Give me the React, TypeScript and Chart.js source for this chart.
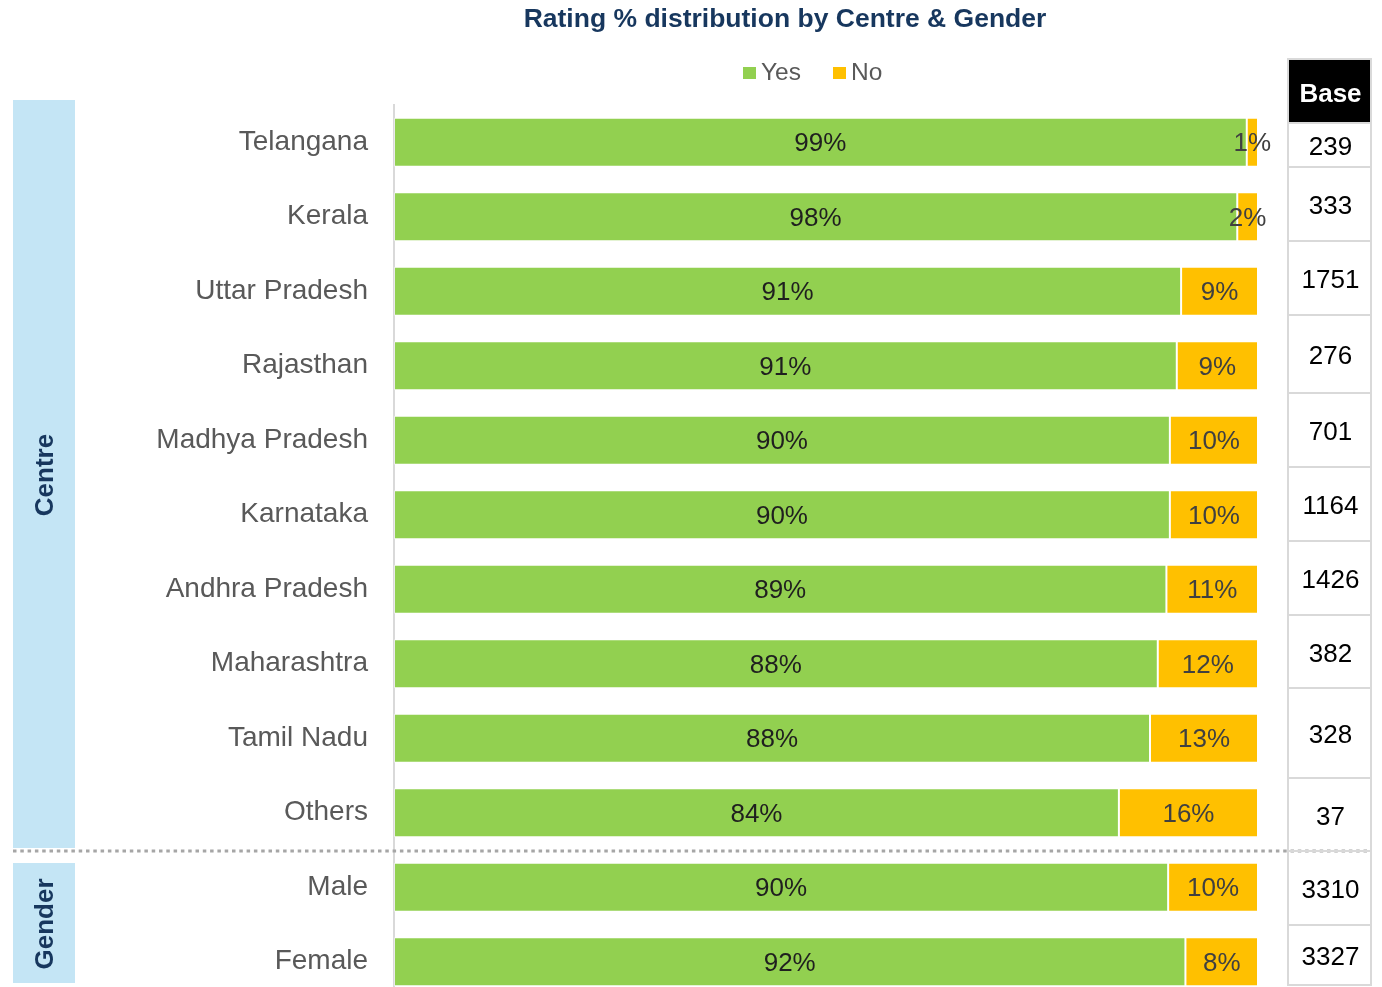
import React, { useEffect, useRef } from "react";
import { Chart, registerables } from "chart.js";

Chart.register(...registerables);

// ---------- data ----------
const TITLE = "Rating % distribution by Centre & Gender";
const CATEGORIES = [
  "Telangana",
  "Kerala",
  "Uttar Pradesh",
  "Rajasthan",
  "Madhya Pradesh",
  "Karnataka",
  "Andhra Pradesh",
  "Maharashtra",
  "Tamil Nadu",
  "Others",
  "Male",
  "Female",
];
const SERIES_NAMES = ["Yes", "No"];
const YES = [98.7, 97.6, 91.1, 90.6, 89.8, 89.8, 89.4, 88.4, 87.5, 83.9, 89.6, 91.6];
const NO = [1.3, 2.4, 8.9, 9.4, 10.2, 10.2, 10.6, 11.6, 12.5, 16.1, 10.4, 8.4];
const BASE_HEADER = "Base";
const BASE = [239, 333, 1751, 276, 701, 1164, 1426, 382, 328, 37, 3310, 3327];
const GROUPS = ["Centre", "Gender"];
const GROUP_SIZES = [10, 2];

// ---------- layout / style ----------
const FONT = "'Liberation Sans', Arial, Helvetica, sans-serif";
const GREEN = "#92D050";
const GOLD = "#FFC000";
const NAVY = "#17375E";
const PANEL_BLUE = "#C4E5F5";
const GRID_GRAY = "#D9D9D9";
const TABLE_X = 1288;
const TABLE_W = 83;
const TABLE_HEADER_TOP = 59;
const TABLE_EDGES = [123, 167, 241, 315, 393, 467, 541, 615, 688, 778, 851, 925, 985];
const PANEL_SPANS = [
  [100, 848],
  [863, 983],
];

const decorPlugin = {
  id: "decor",
  afterDatasetsDraw(chart: any) {
    const ctx = chart.ctx as CanvasRenderingContext2D;
    chart.data.datasets.forEach((ds: any, di: number) => {
      const meta = chart.getDatasetMeta(di);
      meta.data.forEach((el: any, i: number) => {
        const v = ds.data[i] as number;
        const cx = (el.x + el.base) / 2;
        ctx.save();
        ctx.font = `26px ${FONT}`;
        ctx.fillStyle = di === 0 ? "#1F1F1F" : "#404040";
        ctx.textAlign = "center";
        ctx.textBaseline = "middle";
        ctx.fillText(`${Math.round(v)}%`, cx, el.y + 2);
        ctx.restore();
      });
    });
  },
  afterDraw(chart: any) {
    const ctx = chart.ctx as CanvasRenderingContext2D;
    const yScale = chart.scales.y;
    ctx.save();

    // title
    ctx.font = `bold 26.5px ${FONT}`;
    ctx.fillStyle = NAVY;
    ctx.textAlign = "center";
    ctx.textBaseline = "alphabetic";
    ctx.fillText(TITLE, 785, 27);

    // legend
    const legendItems = [
      { text: SERIES_NAMES[0], color: GREEN, x: 743 },
      { text: SERIES_NAMES[1], color: GOLD, x: 833 },
    ];
    ctx.font = `24.5px ${FONT}`;
    ctx.textAlign = "left";
    legendItems.forEach((it) => {
      ctx.fillStyle = it.color;
      ctx.fillRect(it.x, 67, 13, 12);
      ctx.fillStyle = "#595959";
      ctx.fillText(it.text, it.x + 18, 80);
    });

    // group panels
    GROUPS.forEach((g, gi) => {
      const [top, bottom] = PANEL_SPANS[gi];
      ctx.fillStyle = PANEL_BLUE;
      ctx.fillRect(13, top, 62, bottom - top);
      ctx.save();
      ctx.translate(53, (top + bottom) / 2 + 1);
      ctx.rotate(-Math.PI / 2);
      ctx.font = `bold 26px ${FONT}`;
      ctx.fillStyle = NAVY;
      ctx.textAlign = "center";
      ctx.textBaseline = "alphabetic";
      ctx.fillText(g, 0, 0);
      ctx.restore();
    });

    // dashed separator between groups
    const splitIdx = GROUP_SIZES[0];
    const sepY =
      (yScale.getPixelForValue(splitIdx - 1) + yScale.getPixelForValue(splitIdx)) / 2 + 1;
    ctx.strokeStyle = "#A6A6A6";
    ctx.lineWidth = 3;
    ctx.setLineDash([3.5, 3.8]);
    ctx.beginPath();
    ctx.moveTo(13, sepY);
    ctx.lineTo(1372, sepY);
    ctx.stroke();
    ctx.setLineDash([]);

    // base table
    ctx.fillStyle = "#000000";
    ctx.fillRect(TABLE_X, TABLE_HEADER_TOP, TABLE_W, TABLE_EDGES[0] - TABLE_HEADER_TOP);
    ctx.strokeStyle = GRID_GRAY;
    ctx.lineWidth = 2;
    ctx.strokeRect(TABLE_X, TABLE_HEADER_TOP, TABLE_W, TABLE_EDGES[0] - TABLE_HEADER_TOP);
    ctx.font = `bold 26px ${FONT}`;
    ctx.fillStyle = "#FFFFFF";
    ctx.textAlign = "center";
    ctx.textBaseline = "middle";
    ctx.fillText(BASE_HEADER, TABLE_X + TABLE_W / 2 + 1, (TABLE_HEADER_TOP + TABLE_EDGES[0]) / 2 + 4);

    ctx.font = `26px ${FONT}`;
    BASE.forEach((b, i) => {
      const top = TABLE_EDGES[i];
      const bottom = TABLE_EDGES[i + 1];
      ctx.strokeStyle = GRID_GRAY;
      ctx.lineWidth = 2;
      ctx.strokeRect(TABLE_X, top, TABLE_W, bottom - top);
      ctx.fillStyle = "#000000";
      ctx.fillText(String(b), TABLE_X + TABLE_W / 2 + 1, (top + bottom) / 2 + 3);
    });

    ctx.restore();
  },
};

export default function App() {
  const canvasRef = useRef<HTMLCanvasElement | null>(null);

  useEffect(() => {
    document.body.style.margin = "0";
    const canvas = canvasRef.current;
    if (!canvas) return;
    const chart = new Chart(canvas, {
      type: "bar",
      data: {
        labels: CATEGORIES,
        datasets: [
          {
            label: SERIES_NAMES[0],
            data: YES,
            backgroundColor: GREEN,
            borderColor: "rgba(255,255,255,0.45)",
            borderWidth: 1,
            borderSkipped: false,
            barPercentage: 0.66,
            categoryPercentage: 1,
          },
          {
            label: SERIES_NAMES[1],
            data: NO,
            backgroundColor: GOLD,
            borderColor: "rgba(255,255,255,0.45)",
            borderWidth: 1,
            borderSkipped: false,
            barPercentage: 0.66,
            categoryPercentage: 1,
          },
        ],
      },
      options: {
        indexAxis: "y",
        responsive: false,
        maintainAspectRatio: false,
        devicePixelRatio: 1,
        animation: false,
        events: [],
        layout: { padding: { left: 0, right: 124, top: 105, bottom: 1 } },
        plugins: {
          legend: { display: false },
          title: { display: false },
          tooltip: { enabled: false },
        },
        scales: {
          x: { stacked: true, min: 0, max: 100, display: false },
          y: {
            stacked: true,
            grid: { display: false, drawTicks: false },
            border: { display: true, color: GRID_GRAY, width: 2 },
            ticks: {
              color: "#595959",
              font: { size: 28, family: FONT },
              padding: 26,
              autoSkip: false,
            },
            afterFit: (scale: any) => {
              scale.width = 394;
              scale.paddingTop = 0;
              scale.paddingBottom = 0;
            },
          },
        },
      },
      plugins: [decorPlugin],
    } as any);
    return () => chart.destroy();
  }, []);

  return (
    <div
      style={{
        position: "fixed",
        left: 0,
        top: 0,
        width: 1382,
        height: 987,
        overflow: "hidden",
        background: "#FFFFFF",
      }}
    >
      <canvas
        ref={canvasRef}
        width={1382}
        height={1000}
        style={{ display: "block", width: 1382, height: 1000 }}
      />
    </div>
  );
}
